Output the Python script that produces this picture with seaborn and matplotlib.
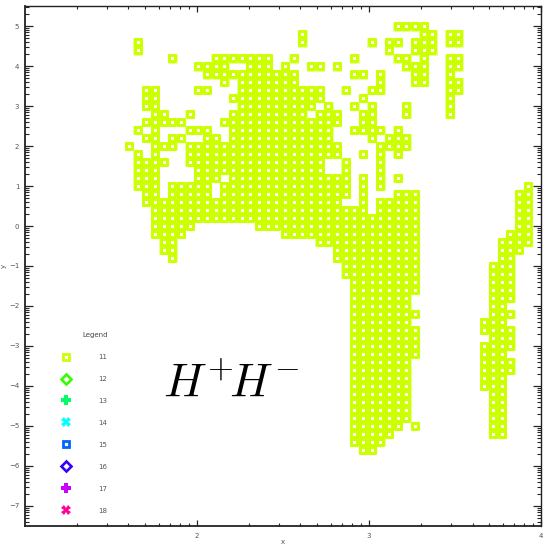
import numpy as np
import pandas as pd
import matplotlib
matplotlib.use("Agg")
import matplotlib.pyplot as plt
from matplotlib.lines import Line2D
from matplotlib.ticker import FixedLocator, NullFormatter
import seaborn as sns

# Scan grid: column i sits at x_start + i * x_step, row j at y_top - j * y_step
x_start = 1.605
x_step = 0.0504
y_top = 5.0
y_step = 0.2

# Occupied column indices for each grid row, top row (y = 5.0) first
row_cells = [
    "31-34",                                # 5.0
    "20,34-35,37-38",                       # 4.8
    "1,20,28,30-31,33-35,37-38",            # 4.6
    "1,30,33-35",                           # 4.4
    "5,10-16,19,26,31-32,34,37-38",         # 4.2
    "8-11,14-16,18,21-22,24,32-34,37-38",   # 4.0
    "9-19,26-27,29,33-34,37",               # 3.8
    "11,13-19,29,33-34,37-38",              # 3.6
    "2-3,8-9,13-22,25,28-29,37-38",         # 3.4
    "2-3,12-22,27,37",                      # 3.2
    "2-3,13-21,23,26,28,32,37",             # 3.0
    "3-4,7,12-20,22-24,27-28,32,37",        # 2.8
    "2-6,11-24,27-28",                      # 2.6
    "1,3,7-9,12-23,26-29,31",               # 2.4
    "2-3,5-6,9-10,12-23,28,30-32",          # 2.2
    "0,3-5,7-24,29-32",                     # 2.0
    "1,3,7-24,27,29,31",                    # 1.8
    "1-4,7-22,25,29",                       # 1.6
    "1-3,8-22,25,29",                       # 1.4
    "1-3,8-10,12-25,27,29,31",              # 1.2
    "1-3,5-9,11-25,27,29,46",               # 1.0
    "2-3,5-9,11-25,27,31-33,45-46",         # 0.8
    "2-24,27,29-33,45-46",                  # 0.6
    "3-27,29-33,45-46",                     # 0.4
    "3-33,45-46",                           # 0.2
    "3-7,15-33,45-46",                      # 0.0
    "3-6,18-33,44-46",                      # -0.2
    "4-5,22-33,43-46",                      # -0.4
    "4-5,24-33,43-45",                      # -0.6
    "5,24-33,43-44",                        # -0.8
    "25-33,42-44",                          # -1.0
    "25-33,42-44",                          # -1.2
    "26-33,42-44",                          # -1.4
    "26-33,42-44",                          # -1.6
    "26-32,42-44",                          # -1.8
    "26-32,42-43",                          # -2.0
    "26-33,42-44",                          # -2.2
    "26-32,41-43",                          # -2.4
    "26-33,41-44",                          # -2.6
    "26-33,42-44",                          # -2.8
    "26-33,41-44",                          # -3.0
    "26-33,41-43",                          # -3.2
    "26-32,41-44",                          # -3.4
    "26-32,41-44",                          # -3.6
    "26-32,41-43",                          # -3.8
    "26-32,41-43",                          # -4.0
    "26-32,42-43",                          # -4.2
    "26-32,42-43",                          # -4.4
    "26-32,42-43",                          # -4.6
    "26-32,42-43",                          # -4.8
    "26-31,33,42-43",                       # -5.0
    "26-30,42-43",                          # -5.2
    "26-29",                                # -5.4
    "27-28",                                # -5.6
]

# Legend entries
series_names = ["11", "12", "13", "14", "15", "16", "17", "18"]
series_colors = ["#ccff00", "#33ff00", "#00ff66", "#00ffff",
                 "#0066ff", "#3300ff", "#cc00ff", "#ff0099"]
series_markers = ["s", "D", "P", "X", "s", "D", "P", "X"]

x_major = [2, 3, 4]
y_major = list(range(-7, 6))
x_limits = (1.0, 4.0)
y_limits = (-7.5, 5.5)


def parse_cells(spec):
    cols = []
    for part in spec.split(","):
        if "-" in part:
            a, b = part.split("-")
            cols.extend(range(int(a), int(b) + 1))
        else:
            cols.append(int(part))
    return cols


records = []
for j, spec in enumerate(row_cells):
    for i in parse_cells(spec):
        records.append({"x": x_start + i * x_step, "y": y_top - j * y_step})
df = pd.DataFrame(records)

sns.set_style("white")
plt.rcParams["font.family"] = ["DejaVu Sans"]
plt.rcParams["mathtext.fontset"] = "cm"

fig = plt.figure(figsize=(5.47, 5.45), dpi=100)
ax = fig.add_axes([24.8 / 547, 1 - 525.7 / 545, (541 - 24.8) / 547, (525.7 - 6.3) / 545])

# soft pale rim under each cell, then the cell itself
sns.scatterplot(data=df, x="x", y="y", ax=ax, marker="s", s=38,
                color="#e9ff9c", facecolor="none", edgecolor="#e9ff9c",
                linewidth=0.8, legend=False, zorder=2)
sns.scatterplot(data=df, x="x", y="y", ax=ax, marker="s", s=15,
                color=series_colors[0], facecolor="white",
                edgecolor=series_colors[0], linewidth=2.2,
                legend=False, zorder=3)

ax.set_xlim(*x_limits)
ax.set_ylim(*y_limits)

# log-style minor ticks inside every unit interval
x_minor = [k + np.log10(m) for k in range(0, 5) for m in range(2, 10)]
y_minor = [k + np.log10(m) for k in range(-8, 6) for m in range(2, 10)]
ax.xaxis.set_major_locator(FixedLocator(x_major))
ax.xaxis.set_minor_locator(FixedLocator(x_minor))
ax.yaxis.set_major_locator(FixedLocator(y_major))
ax.yaxis.set_minor_locator(FixedLocator(y_minor))
ax.xaxis.set_minor_formatter(NullFormatter())
ax.yaxis.set_minor_formatter(NullFormatter())
ax.set_xticklabels([str(v) for v in x_major])
ax.set_yticklabels([str(v).replace("-", "\u2212") for v in y_major])

ax.tick_params(axis="x", which="major", direction="in", length=4.3, width=0.9,
               top=True, bottom=True, labelsize=5, labelcolor="#555555", pad=5)
ax.tick_params(axis="x", which="minor", direction="in", length=2.1, width=0.8,
               top=True, bottom=True)
ax.tick_params(axis="y", which="major", direction="in", length=6.0, width=0.9,
               left=True, right=True, labelsize=5, labelcolor="#555555", pad=4)
ax.tick_params(axis="y", which="minor", direction="in", length=3.0, width=0.8,
               left=True, right=True)
for side, sp in ax.spines.items():
    sp.set_visible(True)
    sp.set_color("#222222")
    sp.set_linewidth(1.3 if side in ("left", "bottom") else 1.0)

ax.set_xlabel("x", fontsize=5, color="#555555", labelpad=0.3)
ax.set_ylabel("y", fontsize=5, color="#555555", labelpad=1.5)

fig.text(163 / 547, 1 - 395 / 545, r"$H^{+}\!H^{-}$", fontsize=34,
         ha="left", va="baseline", color="black")

handles = []
for name, col, mk in zip(series_names, series_colors, series_markers):
    if mk == "s":
        size = 5.0 if name == "11" else 4.0
        h = Line2D([], [], linestyle="none", marker=mk, markersize=size,
                   markerfacecolor="white", markeredgecolor=col,
                   markeredgewidth=2.0)
    elif mk == "D":
        h = Line2D([], [], linestyle="none", marker=mk, markersize=4.8,
                   markerfacecolor="white", markeredgecolor=col,
                   markeredgewidth=1.9)
    else:
        h = Line2D([], [], linestyle="none", marker=mk, markersize=6.8,
                   markerfacecolor=col, markeredgecolor=col,
                   markeredgewidth=0.0)
    handles.append(h)
leg = ax.legend(handles, series_names, title="Legend", loc="upper left",
                bbox_to_anchor=(63 / 547, 1 - 332 / 545),
                bbox_transform=fig.transFigure, frameon=False,
                fontsize=5, title_fontsize=5, handlelength=1.0,
                handletextpad=4.1, labelspacing=2.3, borderpad=0,
                borderaxespad=0, alignment="right")
for t in leg.get_texts():
    t.set_color("#555555")
leg.get_title().set_color("#444444")

fig.savefig("out.png", dpi=100)
